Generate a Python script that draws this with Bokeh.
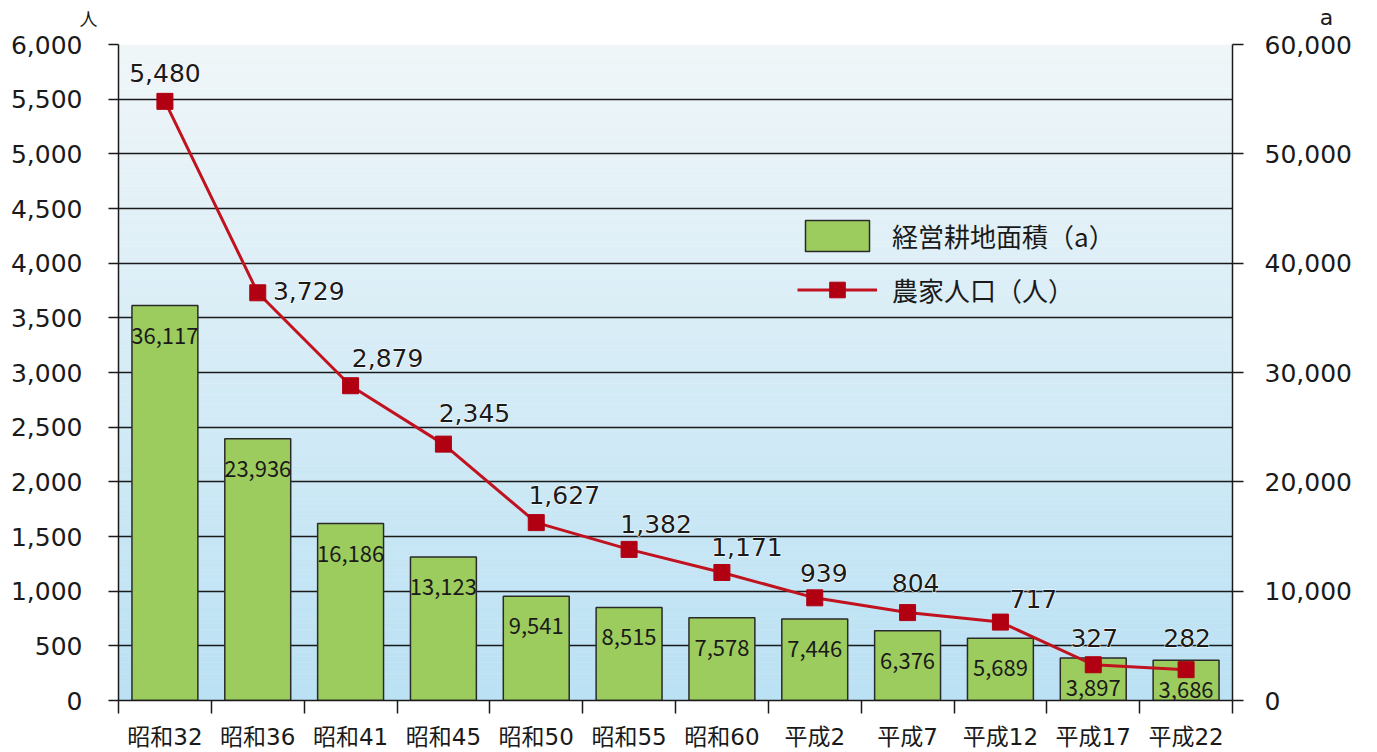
from bokeh.plotting import figure
from bokeh.layouts import column
from bokeh.models import (ColumnDataSource, Range1d, LinearAxis, FixedTicker,
                          Legend, LegendItem, NumeralTickFormatter)
from bokeh.core.properties import value
from bokeh.embed import file_html
from bokeh.resources import INLINE

# ---- data ----
categories = ["昭和32", "昭和36", "昭和41", "昭和45", "昭和50", "昭和55",
              "昭和60", "平成2", "平成7", "平成12", "平成17", "平成22"]
farm_area = [36117, 23936, 16186, 13123, 9541, 8515, 7578, 7446, 6376, 5689, 3897, 3686]
farm_population = [5480, 3729, 2879, 2345, 1627, 1382, 1171, 939, 804, 717, 327, 282]
left_ticks = list(range(0, 6001, 500))
right_ticks = list(range(0, 60001, 10000))
unit_left = "人"
unit_right = "a"

# label placement offsets for the population labels (pixels: right, up)
pop_label_dx = [0, 51, 37, 31, 28, 27, 25, 9, 8, 33, 1, 1]
pop_label_dy = [28, 2, 28, 31, 28, 25, 25, 25, 30, 23, 27, 32]

FONT = "Noto Sans CJK JP"
NUMFONT = "DejaVu Sans, Noto Sans CJK JP"
INK = "#1a1a1a"
W = 1377
STRIP_H = 31
n = len(categories)
xc = [i + 0.5 for i in range(n)]

# ---- strip above the chart holding the unit captions ----
strip = figure(width=W, height=STRIP_H, output_backend="svg", toolbar_location=None,
               x_range=Range1d(0, W), y_range=Range1d(STRIP_H, 0),
               x_axis_location=None, y_axis_location=None,
               min_border=0)
if "frame_align" in strip.properties():
    strip.frame_align = False
strip.outline_line_color = None
strip.grid.visible = False
strip.border_fill_color = "white"
strip.background_fill_color = "white"
strip.text(x=[88], y=[17], text=[unit_left], text_font=value(FONT),
           text_font_size="18px", text_color=INK, text_align="center",
           text_baseline="middle")
strip.text(x=[1326], y=[17], text=[unit_right], text_font=value(NUMFONT),
           text_font_size="22px", text_color=INK, text_align="center",
           text_baseline="middle")

# ---- main chart ----
p = figure(width=W, height=752 - STRIP_H, output_backend="svg", toolbar_location=None,
           x_range=Range1d(0, n), y_range=Range1d(0, 6000),
           min_border_left=118, min_border_right=145, min_border_top=44 - STRIP_H,
           min_border_bottom=50)
if "frame_align" in p.properties():
    p.frame_align = False
p.extra_y_ranges = {"area": Range1d(0, 60000)}
p.outline_line_color = None
p.background_fill_color = "white"
p.border_fill_color = "white"

# background vertical gradient (decoration)
nb = 120
top_c = (240, 246, 248)
bot_c = (186, 225, 244)
bands_bottom, bands_top, bands_col = [], [], []
for k in range(nb):
    t = (k + 0.5) / nb
    c = tuple(int(round(bot_c[j] + (top_c[j] - bot_c[j]) * t)) for j in range(3))
    bands_bottom.append(6000 * k / nb)
    bands_top.append(6000 * (k + 1) / nb)
    bands_col.append("#%02x%02x%02x" % c)
bg = p.quad(left=0, right=n, bottom=bands_bottom, top=bands_top,
            fill_color=bands_col, line_color=bands_col, line_width=0.5)
bg.level = "image"

# grid
p.xgrid.grid_line_color = None
p.ygrid.ticker = FixedTicker(ticks=left_ticks)
p.ygrid.grid_line_color = INK
p.ygrid.grid_line_width = 1.5
p.ygrid.level = "underlay"

# bars
bar_src = ColumnDataSource(dict(x=xc, top=farm_area,
                                lbl=[f"{v:,}" for v in farm_area]))
bars = p.vbar(x="x", top="top", width=0.71, source=bar_src, y_range_name="area",
              fill_color="#9dcc5e", line_color="#2a2a2a", line_width=1.5)
p.text(x="x", y="top", text="lbl", source=bar_src, y_range_name="area",
       text_font=value(FONT), text_font_size="22px", text_color=INK,
       text_align="center", text_baseline="middle", y_offset=30)

# line
line_src = ColumnDataSource(dict(x=xc, y=farm_population,
                                 lbl=[f"{v:,}" for v in farm_population],
                                 dx=pop_label_dx, dy=[-d for d in pop_label_dy]))
ln = p.line(x="x", y="y", source=line_src, line_color="#c1121f", line_width=3)
mk = p.scatter(x="x", y="y", source=line_src, marker="square", size=16,
               fill_color="#b00012", line_color="#b00012")
p.text(x="x", y="y", text="lbl", source=line_src, x_offset="dx", y_offset="dy",
       text_font=value(NUMFONT), text_font_size="25px", text_color="white",
       text_align="center", text_baseline="middle",
       text_outline_color="white")
p.text(x="x", y="y", text="lbl", source=line_src, x_offset="dx", y_offset="dy",
       text_font=value(NUMFONT), text_font_size="25px", text_color=INK,
       text_align="center", text_baseline="middle")

# axes
xa = p.xaxis[0]
xa.ticker = FixedTicker(ticks=xc, minor_ticks=list(range(n + 1)))
xa.major_label_overrides = {x: c for x, c in zip(xc, categories)}
xa.major_tick_line_color = None
xa.major_tick_out = 0
xa.minor_tick_in = 0
xa.minor_tick_out = 13
xa.minor_tick_line_color = INK
xa.minor_tick_line_width = 1.5
xa.axis_line_color = INK
xa.axis_line_width = 1.5
xa.major_label_standoff = 10
xa.major_label_text_font = NUMFONT
xa.major_label_text_font_size = "23px"
xa.major_label_text_color = INK

ya = p.yaxis[0]
ya.ticker = FixedTicker(ticks=left_ticks)
ya.formatter = NumeralTickFormatter(format="0,0")
ya.major_tick_in = 0
ya.major_tick_out = 10
ya.minor_tick_line_color = None
ya.major_tick_line_color = INK
ya.major_tick_line_width = 1.5
ya.axis_line_color = INK
ya.axis_line_width = 1.5
ya.major_label_standoff = 26
ya.major_label_text_font = NUMFONT
ya.major_label_text_font_size = "25px"
ya.major_label_text_color = INK

ra = LinearAxis(y_range_name="area", ticker=FixedTicker(ticks=right_ticks),
                formatter=NumeralTickFormatter(format="0,0"))
ra.major_tick_in = 0
ra.major_tick_out = 11
ra.minor_tick_line_color = None
ra.major_tick_line_color = INK
ra.major_tick_line_width = 1.5
ra.axis_line_color = INK
ra.axis_line_width = 1.5
ra.major_label_standoff = 21
ra.major_label_text_font = NUMFONT
ra.major_label_text_font_size = "25px"
ra.major_label_text_color = INK
p.add_layout(ra, "right")

# legend
legend = Legend(items=[LegendItem(label="経営耕地面積（a）", renderers=[bars]),
                       LegendItem(label="農家人口（人）", renderers=[ln, mk])],
                location=(679, 391), orientation="vertical",
                background_fill_alpha=0, border_line_color=None,
                glyph_width=80, glyph_height=39, label_height=39,
                spacing=15, label_standoff=15, padding=0, margin=0,
                label_text_font=FONT, label_text_font_size="26px",
                label_text_color=INK)
p.add_layout(legend, "center")

page = column(strip, p, spacing=0)
open("out.html", "w").write(file_html(page, INLINE))
